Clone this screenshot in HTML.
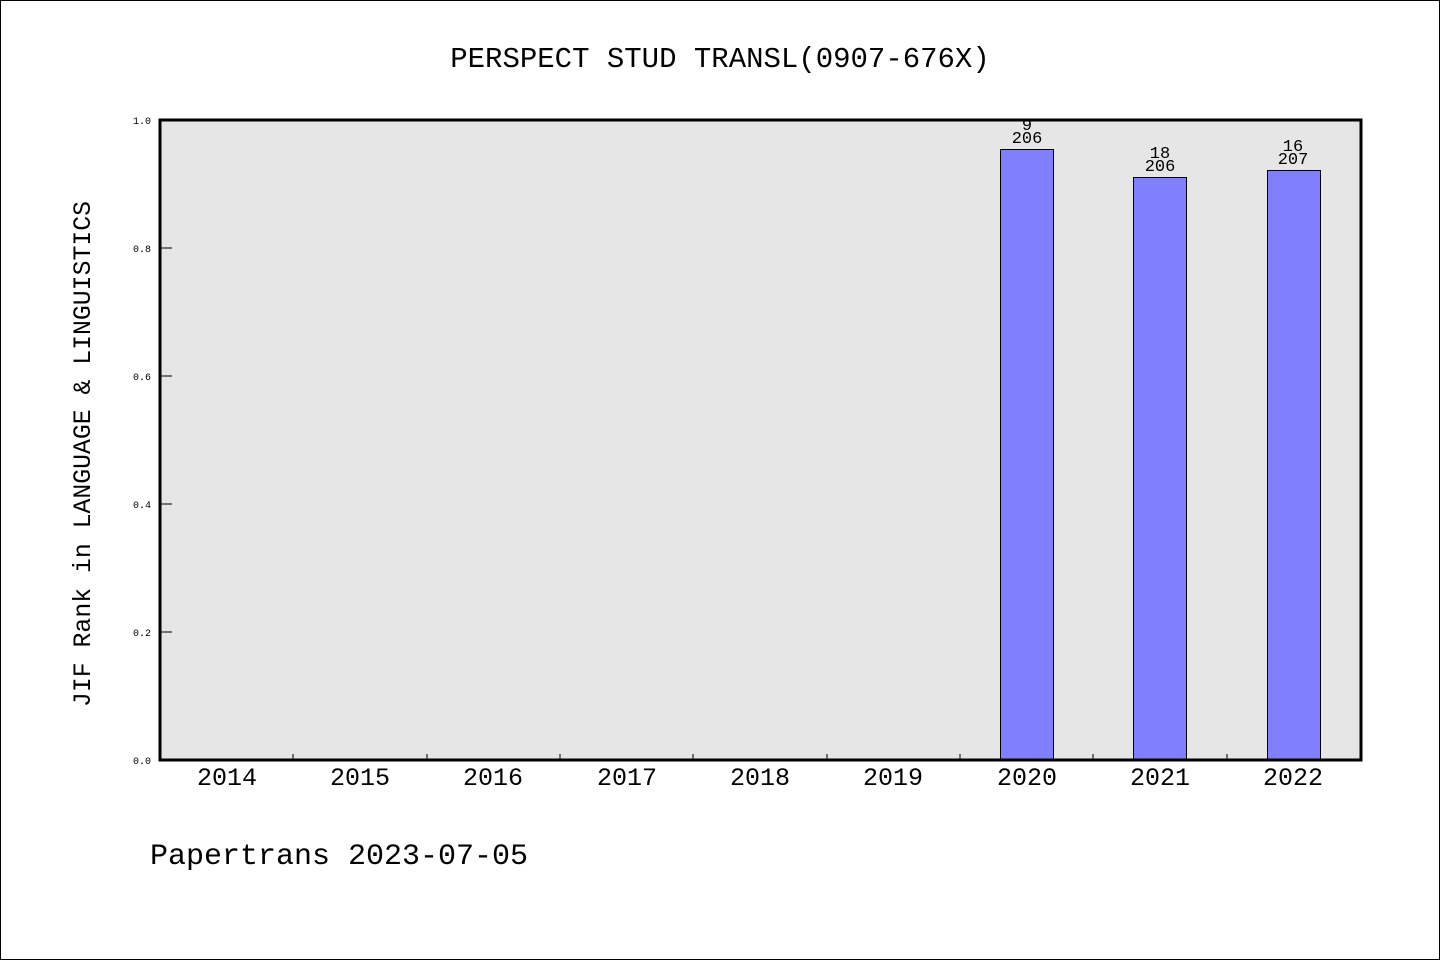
<!DOCTYPE html>
<html><head><meta charset="utf-8"><style>
html,body{margin:0;padding:0;background:#fff}
svg{display:block}
text{font-family:"Liberation Mono",monospace;fill:#000}
</style></head><body>
<svg width="1440" height="960" viewBox="0 0 1440 960" xmlns="http://www.w3.org/2000/svg">
<rect x="0.5" y="0.5" width="1439" height="959" fill="#fff" stroke="#000" stroke-width="1"/>
<text x="720" y="67" font-size="29" text-anchor="middle">PERSPECT STUD TRANSL(0907-676X)</text>
<rect x="160" y="120" width="1201" height="640" fill="#e6e6e6"/>
<g stroke="#000" stroke-width="1">
<line x1="160" y1="120" x2="172" y2="120"/><line x1="160" y1="248" x2="172" y2="248"/>
<line x1="160" y1="376" x2="172" y2="376"/><line x1="160" y1="504" x2="172" y2="504"/>
<line x1="160" y1="632" x2="172" y2="632"/><line x1="160" y1="760" x2="172" y2="760"/>
<line x1="293" y1="760" x2="293" y2="754"/><line x1="427" y1="760" x2="427" y2="754"/>
<line x1="560" y1="760" x2="560" y2="754"/><line x1="693" y1="760" x2="693" y2="754"/>
<line x1="827" y1="760" x2="827" y2="754"/><line x1="960" y1="760" x2="960" y2="754"/>
<line x1="1093" y1="760" x2="1093" y2="754"/><line x1="1227" y1="760" x2="1227" y2="754"/>
</g>
<g font-size="10" text-anchor="end">
<text x="151" y="124">1.0</text><text x="151" y="252">0.8</text><text x="151" y="380">0.6</text>
<text x="151" y="508">0.4</text><text x="151" y="636">0.2</text><text x="151" y="764">0.0</text>
</g>
<g fill="#8080ff" stroke="#000" stroke-width="1">
<rect x="1000.5" y="149.5" width="53" height="610"/>
<rect x="1133.5" y="177.5" width="53" height="582"/>
<rect x="1267.5" y="170.5" width="53" height="589"/>
</g>
<rect x="160" y="120" width="1201" height="640" fill="none" stroke="#000" stroke-width="3"/>
<g font-size="17" text-anchor="middle">
<text x="1027" y="130">9</text><text x="1027" y="143">206</text>
<text x="1160" y="158">18</text><text x="1160" y="171">206</text>
<text x="1293" y="151">16</text><text x="1293" y="164">207</text>
</g>
<g font-size="25" text-anchor="middle">
<text x="227" y="785">2014</text><text x="360" y="785">2015</text><text x="493" y="785">2016</text>
<text x="627" y="785">2017</text><text x="760" y="785">2018</text><text x="893" y="785">2019</text>
<text x="1027" y="785">2020</text><text x="1160" y="785">2021</text><text x="1293" y="785">2022</text>
</g>
<text transform="translate(90,454) rotate(-90)" font-size="24.8" text-anchor="middle">JIF Rank in LANGUAGE &amp; LINGUISTICS</text>
<text x="150" y="864" font-size="30">Papertrans 2023-07-05</text>
</svg>
</body></html>
